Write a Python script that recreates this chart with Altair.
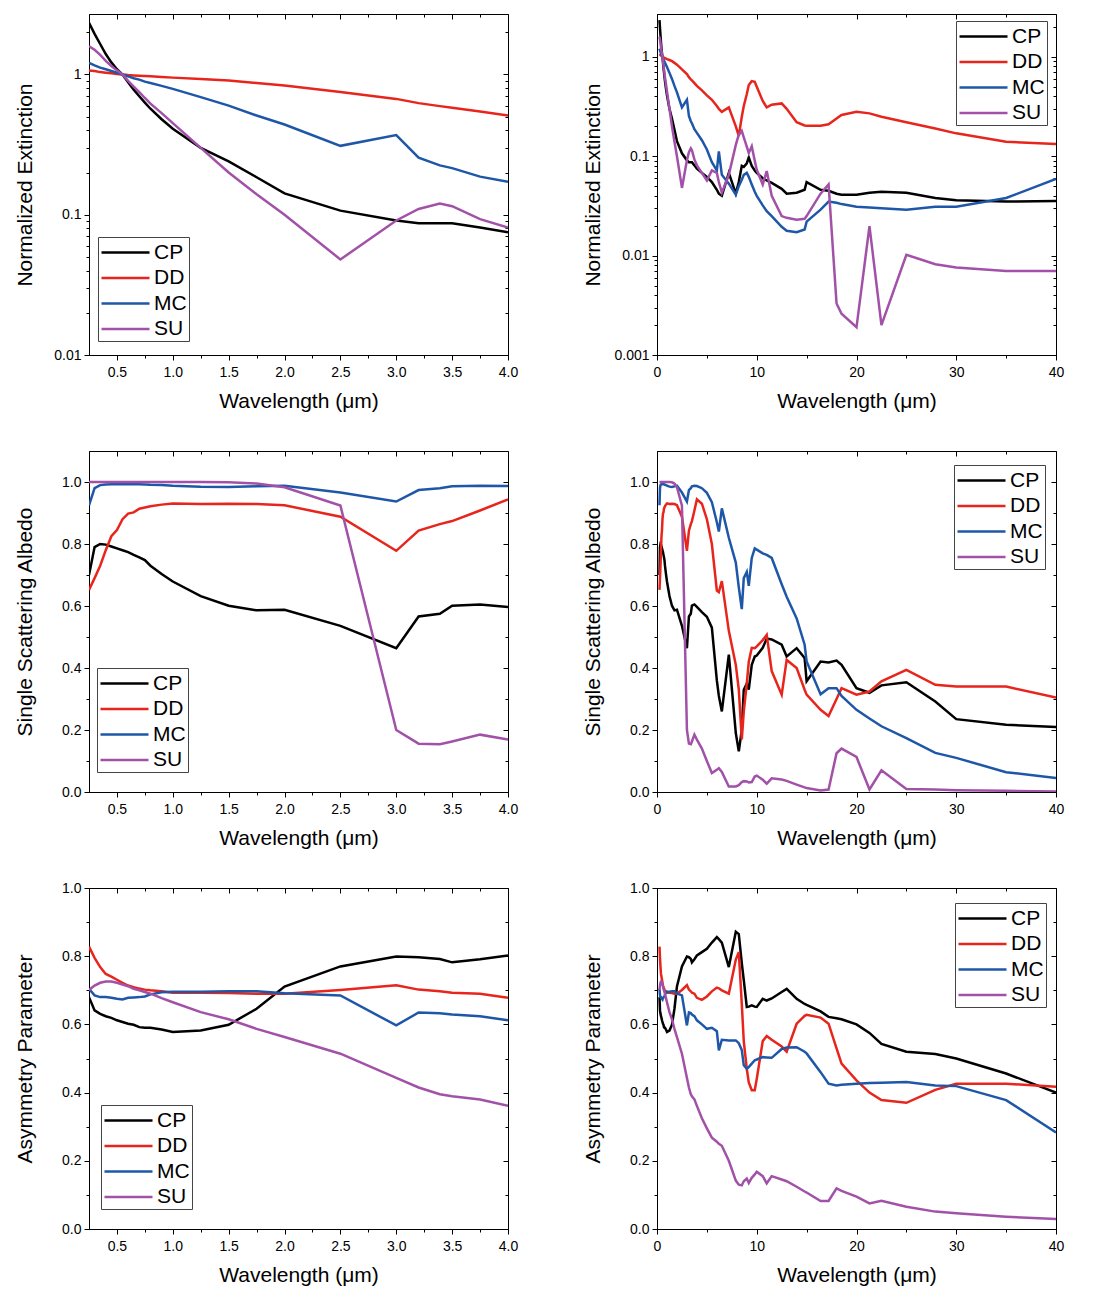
import altair as alt
import pandas as pd

FONT = "Liberation Sans"
SPECIES = ["CP", "DD", "MC", "SU"]
COLORS = ["#000000", "#e8251c", "#1f57a8", "#a251a8"]

WL = [0.25, 0.3, 0.35, 0.4, 0.45, 0.5, 0.55, 0.6, 0.65, 0.7,
      0.75, 0.8, 0.9, 1.0, 1.25, 1.5, 1.75, 2.0, 2.5, 3.0,
      3.2, 3.39, 3.5, 3.75, 4.0,
      4.5, 5.0, 5.5, 6.0, 6.2, 6.5, 7.2, 7.9, 8.2, 8.5,
      8.7, 9.0, 9.2, 9.5, 9.8, 10.0, 10.6, 11.0, 11.5, 12.5,
      13.0, 14.0, 14.8, 15.0, 16.4, 17.2, 18.0, 18.5, 20.0, 21.3,
      22.5, 25.0, 27.9, 30.0, 35.0, 40.0]

# Normalized extinction
EXT_CP = [2.34, 1.95, 1.65, 1.40, 1.22, 1.09, 1.0, 0.88, 0.78, 0.70,
          0.63, 0.57, 0.48, 0.41, 0.30, 0.24, 0.185, 0.142, 0.107, 0.091,
          0.087, 0.087, 0.087, 0.081, 0.075,
          0.068, 0.062, 0.055, 0.046, 0.042, 0.040, 0.068, 0.042, 0.055, 0.080,
          0.078, 0.085, 0.097, 0.080, 0.072, 0.068, 0.060, 0.057, 0.054, 0.047,
          0.042, 0.043, 0.046, 0.055, 0.046, 0.045, 0.042, 0.041, 0.041, 0.043,
          0.044, 0.043, 0.038, 0.036, 0.035, 0.0355]
EXT_DD = [1.07, 1.06, 1.04, 1.03, 1.02, 1.01, 1.0, 0.99, 0.985, 0.98,
          0.975, 0.97, 0.96, 0.95, 0.93, 0.905, 0.87, 0.835, 0.75, 0.67,
          0.625, 0.595, 0.58, 0.545, 0.51,
          0.46, 0.41, 0.37, 0.32, 0.30, 0.28, 0.31, 0.20, 0.16, 0.25,
          0.32, 0.42, 0.52, 0.57, 0.56, 0.50, 0.36, 0.31, 0.33, 0.34,
          0.30, 0.22, 0.204, 0.203, 0.203, 0.21, 0.24, 0.26, 0.28, 0.27,
          0.25, 0.22, 0.19, 0.17, 0.14, 0.133]
EXT_MC = [1.21, 1.16, 1.12, 1.09, 1.06, 1.03, 1.0, 0.97, 0.94, 0.92,
          0.89, 0.87, 0.83, 0.79, 0.69, 0.60, 0.51, 0.44, 0.31, 0.37,
          0.255, 0.225, 0.215, 0.187, 0.172,
          0.145, 0.117, 0.087, 0.072, 0.112, 0.065, 0.053, 0.041, 0.05, 0.058,
          0.065, 0.068, 0.062, 0.052, 0.044, 0.040, 0.032, 0.028, 0.025, 0.0195,
          0.0178, 0.0172, 0.0183, 0.022, 0.029, 0.035, 0.034, 0.033, 0.031, 0.0305,
          0.030, 0.029, 0.031, 0.031, 0.038, 0.059]
EXT_SU = [1.59, 1.50, 1.38, 1.25, 1.15, 1.07, 1.0, 0.90, 0.82, 0.75,
          0.68, 0.62, 0.53, 0.45, 0.30, 0.20, 0.14, 0.10, 0.048, 0.091,
          0.11, 0.12, 0.115, 0.093, 0.081,
          0.068, 0.057, 0.072, 0.068, 0.055, 0.043, 0.065, 0.13, 0.165, 0.18,
          0.155, 0.125, 0.108, 0.126, 0.09, 0.073, 0.052, 0.071, 0.04, 0.025,
          0.024, 0.023, 0.0235, 0.025, 0.042, 0.052, 0.0033, 0.0026, 0.0019, 0.0198,
          0.0020, 0.0102, 0.0082, 0.0076, 0.0070, 0.0070]

# Single scattering albedo
SSA_CP = [0.70, 0.79, 0.80, 0.798, 0.792, 0.786, 0.78, 0.774, 0.765, 0.757,
          0.748, 0.73, 0.703, 0.679, 0.632, 0.601, 0.586, 0.588, 0.536, 0.464,
          0.566, 0.575, 0.601, 0.605, 0.597,
          0.58, 0.565, 0.53, 0.36, 0.31, 0.26, 0.443, 0.19, 0.131, 0.20,
          0.33, 0.35, 0.33, 0.41, 0.437, 0.44, 0.465, 0.495, 0.492, 0.475,
          0.437, 0.464, 0.432, 0.357, 0.421, 0.418, 0.424, 0.41, 0.335, 0.32,
          0.344, 0.354, 0.292, 0.235, 0.217, 0.21]
SSA_DD = [0.652, 0.69, 0.73, 0.78, 0.825, 0.845, 0.88, 0.898, 0.902, 0.914,
          0.918, 0.922, 0.927, 0.931, 0.929, 0.93, 0.929, 0.925, 0.888, 0.778,
          0.843, 0.864, 0.874, 0.908, 0.944,
          0.93, 0.88, 0.80, 0.65, 0.645, 0.68, 0.52, 0.41, 0.33, 0.17,
          0.26, 0.35, 0.42, 0.465, 0.464, 0.47, 0.49, 0.507, 0.39, 0.314,
          0.426, 0.40, 0.33, 0.314, 0.265, 0.245, 0.30, 0.335, 0.314, 0.324,
          0.357, 0.394, 0.346, 0.34, 0.34, 0.305]
SSA_MC = [0.925, 0.98, 0.99, 0.992, 0.993, 0.993, 0.993, 0.993, 0.993, 0.993,
          0.992, 0.991, 0.99, 0.988, 0.985, 0.984, 0.986, 0.988, 0.966, 0.937,
          0.974, 0.98, 0.986, 0.988, 0.987,
          0.98, 0.965, 0.935, 0.87, 0.84, 0.915, 0.82, 0.74, 0.66, 0.59,
          0.69, 0.71, 0.665, 0.755, 0.786, 0.782, 0.77, 0.765, 0.755, 0.67,
          0.63, 0.56, 0.475, 0.421, 0.315, 0.335, 0.335, 0.31, 0.265, 0.237,
          0.212, 0.174, 0.126, 0.11, 0.064, 0.045]
SSA_SU = [1.0, 1.0, 1.0, 1.0, 1.0, 1.0, 1.0, 1.0, 1.0, 1.0,
          1.0, 1.0, 1.0, 1.0, 1.0, 0.999, 0.995, 0.983, 0.924, 0.20,
          0.156, 0.154, 0.163, 0.185, 0.169,
          0.14, 0.10, 0.061, 0.072, 0.077, 0.065, 0.018, 0.018, 0.022, 0.032,
          0.035, 0.034, 0.031, 0.032, 0.05, 0.053, 0.04, 0.027, 0.044, 0.04,
          0.036, 0.024, 0.015, 0.013, 0.005, 0.008, 0.125, 0.14, 0.113, 0.008,
          0.07, 0.01, 0.008, 0.006, 0.004, 0.002]

# Asymmetry parameter
ASY_CP = [0.68, 0.641, 0.631, 0.624, 0.619, 0.612, 0.607, 0.602, 0.599, 0.592,
          0.59, 0.59, 0.585, 0.578, 0.582, 0.599, 0.646, 0.711, 0.77, 0.799,
          0.797, 0.792, 0.782, 0.791, 0.802,
          0.812, 0.822, 0.84, 0.856, 0.85, 0.84, 0.768, 0.872, 0.865, 0.78,
          0.73, 0.651, 0.652, 0.656, 0.652, 0.651, 0.675, 0.67, 0.676, 0.695,
          0.704, 0.675, 0.66, 0.657, 0.638, 0.622, 0.618, 0.615, 0.60, 0.575,
          0.543, 0.52, 0.513, 0.50, 0.456, 0.40]
ASY_DD = [0.828, 0.795, 0.768, 0.748, 0.74, 0.731, 0.722, 0.714, 0.709, 0.705,
          0.702, 0.70, 0.697, 0.693, 0.693, 0.692, 0.69, 0.69, 0.701, 0.715,
          0.702, 0.697, 0.693, 0.69, 0.678,
          0.672, 0.682, 0.697, 0.708, 0.706, 0.70, 0.69, 0.79, 0.812, 0.66,
          0.55, 0.47, 0.43, 0.407, 0.407, 0.44, 0.551, 0.566, 0.555, 0.535,
          0.52, 0.602, 0.625, 0.628, 0.62, 0.602, 0.53, 0.485, 0.436, 0.40,
          0.378, 0.37, 0.408, 0.426, 0.426, 0.417]
ASY_MC = [0.704, 0.685, 0.68, 0.68, 0.678, 0.675, 0.673, 0.678, 0.679, 0.68,
          0.682, 0.688, 0.694, 0.696, 0.696, 0.697, 0.697, 0.691, 0.685, 0.597,
          0.635, 0.633, 0.629, 0.624, 0.612,
          0.60, 0.587, 0.59, 0.58, 0.524, 0.555, 0.553, 0.553, 0.545, 0.525,
          0.48, 0.47, 0.475, 0.485, 0.495, 0.497, 0.504, 0.503, 0.502, 0.528,
          0.532, 0.533, 0.52, 0.515, 0.46, 0.426, 0.421, 0.423, 0.426, 0.428,
          0.429, 0.431, 0.421, 0.419, 0.378, 0.283]
ASY_SU = [0.701, 0.714, 0.722, 0.726, 0.726, 0.722, 0.717, 0.712, 0.704, 0.70,
          0.695, 0.69, 0.677, 0.665, 0.636, 0.615, 0.587, 0.563, 0.514, 0.443,
          0.415, 0.395, 0.389, 0.38, 0.361,
          0.325, 0.295, 0.268, 0.256, 0.25, 0.244, 0.20, 0.142, 0.13, 0.128,
          0.14, 0.148, 0.135, 0.15, 0.16, 0.168, 0.155, 0.134, 0.155, 0.145,
          0.14, 0.124, 0.11, 0.107, 0.082, 0.082, 0.119, 0.112, 0.095, 0.075,
          0.083, 0.065, 0.051, 0.046, 0.036, 0.029]

X_SHORT_MAJOR = [0.5, 1.0, 1.5, 2.0, 2.5, 3.0, 3.5, 4.0]
X_SHORT_MINOR = [0.75, 1.25, 1.75, 2.25, 2.75, 3.25, 3.75]
X_LONG_MAJOR = [0, 10, 20, 30, 40]
X_LONG_MINOR = [5, 15, 25, 35]
LOG_MINOR = [0.002, 0.003, 0.004, 0.005, 0.006, 0.007, 0.008, 0.009,
             0.02, 0.03, 0.04, 0.05, 0.06, 0.07, 0.08, 0.09,
             0.2, 0.3, 0.4, 0.5, 0.6, 0.7, 0.8, 0.9, 2.0]
LIN_MAJOR = [0.0, 0.2, 0.4, 0.6, 0.8, 1.0]
LIN_MINOR = [0.1, 0.3, 0.5, 0.7, 0.9]


def long_df(series):
    rows = []
    for sp, vals in zip(SPECIES, series):
        assert len(vals) == len(WL), sp
        for w, v in zip(WL, vals):
            rows.append({"wl": w, "val": v, "species": sp})
    return pd.DataFrame(rows)


EXT = long_df([EXT_CP, EXT_DD, EXT_MC, EXT_SU])
SSA = long_df([SSA_CP, SSA_DD, SSA_MC, SSA_SU])
ASY = long_df([ASY_CP, ASY_DD, ASY_MC, ASY_SU])

HIDDEN = dict(labels=False, domain=False, grid=False, title=None, minExtent=0)


def panel(df, ytitle, short, ylog, ydomain, ymajor, yfmt, lx, ly, width):
    if short:
        d = df[df.wl <= 4.0]
        xdom, xmaj, xmin, xfmt = [0.25, 4.0], X_SHORT_MAJOR, X_SHORT_MINOR, ".1f"
    else:
        d = df
        xdom, xmaj, xmin, xfmt = [0, 40], X_LONG_MAJOR, X_LONG_MINOR, "d"
    xs = alt.Scale(domain=xdom, nice=False, zero=False)
    if ylog:
        ys = alt.Scale(type="log", domain=ydomain, nice=False)
        ymin = [v for v in LOG_MINOR if ydomain[0] < v < ydomain[1]]
    else:
        ys = alt.Scale(domain=ydomain, nice=False, zero=False)
        ymin = LIN_MINOR
    base = alt.Chart(d)
    lines = base.mark_line(strokeWidth=2.5, clip=True).encode(
        x=alt.X("wl:Q", scale=xs, axis=alt.Axis(
            orient="bottom", values=xmaj, format=xfmt, title="Wavelength (μm)",
            tickSize=5, labelPadding=5, titlePadding=11, labelFlush=False,
            labelOverlap=False, grid=False)),
        y=alt.Y("val:Q", scale=ys, axis=alt.Axis(
            orient="left", values=ymajor, format=yfmt, title=ytitle,
            tickSize=5, labelPadding=3, titlePadding=14, minExtent=40,
            maxExtent=40, labelOverlap=False, grid=False)),
        color=alt.Color("species:N", scale=alt.Scale(domain=SPECIES, range=COLORS),
                        legend=alt.Legend(title=None, orient="none", legendX=lx, legendY=ly)),
    )
    l2 = base.mark_point(opacity=0, size=1).encode(
        x=alt.X("wl:Q", scale=xs, axis=alt.Axis(orient="bottom", values=xmin, tickSize=3, **HIDDEN)),
        y=alt.Y("val:Q", scale=ys, axis=alt.Axis(orient="left", values=ymin, tickSize=3, **HIDDEN)),
    )
    l3 = base.mark_point(opacity=0, size=1).encode(
        x=alt.X("wl:Q", scale=xs, axis=alt.Axis(orient="top", values=xmaj, tickSize=5, offset=-5, **HIDDEN)),
        y=alt.Y("val:Q", scale=ys, axis=alt.Axis(orient="right", values=ymajor, tickSize=5, offset=-5, **HIDDEN)),
    )
    l4 = base.mark_point(opacity=0, size=1).encode(
        x=alt.X("wl:Q", scale=xs, axis=alt.Axis(orient="top", values=xmin, tickSize=3, offset=-3, **HIDDEN)),
        y=alt.Y("val:Q", scale=ys, axis=alt.Axis(orient="right", values=ymin, tickSize=3, offset=-3, **HIDDEN)),
    )
    return alt.layer(lines, l2, l3, l4).resolve_axis(
        x="independent", y="independent").properties(width=width, height=341)


WL_W, WR_W = 419, 399

p1 = panel(EXT, "Normalized Extinction", True, True, [0.01, 2.7], [0.01, 0.1, 1], "~g", 9, 223, WL_W)
p2 = panel(EXT, "Normalized Extinction", False, True, [0.001, 2.7], [0.001, 0.01, 0.1, 1], "~g", 299, 7, WR_W)
p3 = panel(SSA, "Single Scattering Albedo", True, False, [0, 1.1], LIN_MAJOR, ".1f", 8, 217, WL_W)
p4 = panel(SSA, "Single Scattering Albedo", False, False, [0, 1.1], LIN_MAJOR, ".1f", 297, 14, WR_W)
p5 = panel(ASY, "Asymmetry Parameter", True, False, [0, 1.0], LIN_MAJOR, ".1f", 12, 217, WL_W)
p6 = panel(ASY, "Asymmetry Parameter", False, False, [0, 1.0], LIN_MAJOR, ".1f", 298, 15, WR_W)

row1 = alt.hconcat(p1, p2, spacing=62).resolve_legend(color="independent")
row2 = alt.hconcat(p3, p4, spacing=62).resolve_legend(color="independent")
row3 = alt.hconcat(p5, p6, spacing=62).resolve_legend(color="independent")

top = alt.vconcat(row1, row2, spacing=38).resolve_legend(color="independent")
chart = alt.vconcat(top, row3, spacing=31).resolve_legend(color="independent").configure_view(
    stroke="black", strokeWidth=1
).configure_axis(
    labelFont=FONT, titleFont=FONT, labelColor="black", titleColor="black",
    tickColor="black", domainColor="black", labelFontSize=14, titleFontSize=21,
    titleFontWeight="normal", tickWidth=1, domainWidth=1
).configure_legend(
    labelFont=FONT, labelFontSize=21, labelColor="black",
    symbolType="M-1,0H3", symbolSize=576, symbolStrokeWidth=2.5,
    strokeColor="#444444", fillColor="white",
    padding=2, rowPadding=1.5, labelOffset=27
).properties(background="white")

chart.save("out.html", embed_options={"renderer": "svg", "actions": False})
